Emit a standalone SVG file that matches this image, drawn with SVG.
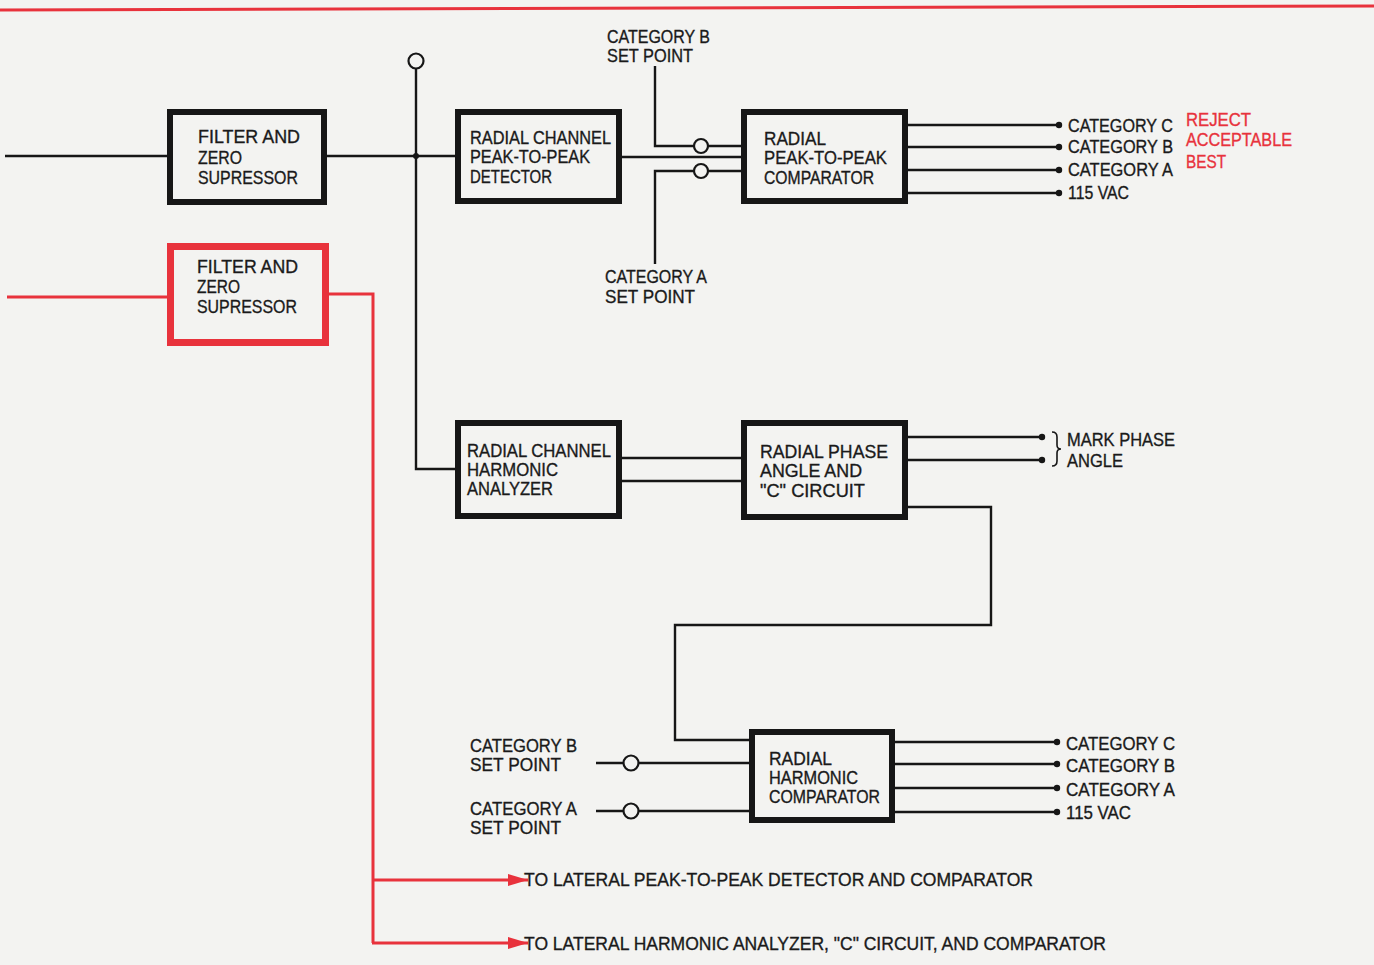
<svg xmlns="http://www.w3.org/2000/svg" width="1374" height="965" viewBox="0 0 1374 965">
<style>
.bg{fill:#f3f3f1}
.box{fill:none;stroke:#161616;stroke-width:6}
.rbox{fill:none;stroke:#e8323c;stroke-width:7}
.w{fill:none;stroke:#161616;stroke-width:2.4}
.rw{fill:none;stroke:#e8323c;stroke-width:3}
.c{fill:#f3f3f1;stroke:#161616;stroke-width:2.2}
.dot{fill:#161616}
text{font-family:"Liberation Sans",Arial,sans-serif;font-size:19px;fill:#1a1a1a;stroke:#1a1a1a;stroke-width:0.35}
text.r{fill:#e8323c;stroke:#e8323c}
</style>
<defs>
<marker id="arr" viewBox="0 0 20 12" refX="20" refY="6" markerWidth="20" markerHeight="12" markerUnits="userSpaceOnUse" orient="auto">
<path d="M0,0 L20,6 L0,12 Z" fill="#e8323c"/>
</marker>
</defs>
<rect class="bg" x="0" y="0" width="1374" height="965"/>
<line x1="0" y1="10" x2="1374" y2="6" stroke="#e8323c" stroke-width="3"/>

<g id="connectors">
<line class="w" x1="5" y1="156" x2="170" y2="156"/>
<line class="w" x1="327" y1="156" x2="458" y2="156"/>
<polyline class="w" points="416,69 416,469 458,469"/>
<circle class="c" cx="416" cy="61" r="7.5"/>
<circle class="dot" cx="416" cy="156" r="3"/>
<line class="w" x1="622" y1="157" x2="744" y2="157"/>
<polyline class="w" points="655,66 655,146 744,146"/>
<polyline class="w" points="655,264 655,171 744,171"/>
<circle class="c" cx="701" cy="146" r="7"/>
<circle class="c" cx="701" cy="171" r="7"/>
<line class="w" x1="908" y1="125" x2="1059" y2="125"/>
<line class="w" x1="908" y1="147" x2="1059" y2="147"/>
<line class="w" x1="908" y1="170" x2="1059" y2="170"/>
<line class="w" x1="908" y1="193" x2="1059" y2="193"/>
<circle class="dot" cx="1059" cy="125" r="3.2"/>
<circle class="dot" cx="1059" cy="147" r="3.2"/>
<circle class="dot" cx="1059" cy="170" r="3.2"/>
<circle class="dot" cx="1059" cy="193" r="3.2"/>
<line class="w" x1="622" y1="458" x2="744" y2="458"/>
<line class="w" x1="622" y1="481" x2="744" y2="481"/>
<line class="w" x1="908" y1="437" x2="1042" y2="437"/>
<line class="w" x1="908" y1="460" x2="1042" y2="460"/>
<circle class="dot" cx="1042" cy="437" r="3.2"/>
<circle class="dot" cx="1042" cy="460" r="3.2"/>
<path d="M1052,432 q5,0 5,5 v8 q0,4 4,4 q-4,0 -4,4 v8 q0,5 -5,5" fill="none" stroke="#161616" stroke-width="1.6"/>
<polyline class="w" points="908,507 991,507 991,625 675,625 675,740 752,740"/>
<line class="w" x1="596" y1="763" x2="752" y2="763"/>
<line class="w" x1="596" y1="811" x2="752" y2="811"/>
<circle class="c" cx="631" cy="763" r="7.5"/>
<circle class="c" cx="631" cy="811" r="7.5"/>
<line class="w" x1="895" y1="742" x2="1057" y2="742"/>
<line class="w" x1="895" y1="764" x2="1057" y2="764"/>
<line class="w" x1="895" y1="788" x2="1057" y2="788"/>
<line class="w" x1="895" y1="812" x2="1057" y2="812"/>
<circle class="dot" cx="1057" cy="742" r="3.2"/>
<circle class="dot" cx="1057" cy="764" r="3.2"/>
<circle class="dot" cx="1057" cy="788" r="3.2"/>
<circle class="dot" cx="1057" cy="812" r="3.2"/>
<line class="rw" x1="7" y1="297" x2="170" y2="297"/>
<polyline class="rw" points="329,294 373,294 373,943"/>
<line class="rw" x1="372" y1="880" x2="528" y2="880" marker-end="url(#arr)"/>
<line class="rw" x1="372" y1="943" x2="528" y2="943" marker-end="url(#arr)"/>
</g>

<g id="filter1">
<rect class="box" x="170" y="112" width="154" height="90"/>
<text x="198" y="143" textLength="102" lengthAdjust="spacingAndGlyphs">FILTER AND</text>
<text x="198" y="164" textLength="44" lengthAdjust="spacingAndGlyphs">ZERO</text>
<text x="198" y="184" textLength="100" lengthAdjust="spacingAndGlyphs">SUPRESSOR</text>
</g>

<g id="filter2">
<rect class="rbox" x="170.5" y="246.5" width="155" height="96"/>
<text x="197" y="273" textLength="101" lengthAdjust="spacingAndGlyphs">FILTER AND</text>
<text x="197" y="293" textLength="43" lengthAdjust="spacingAndGlyphs">ZERO</text>
<text x="197" y="313" textLength="100" lengthAdjust="spacingAndGlyphs">SUPRESSOR</text>
</g>

<g id="p2p-detector">
<rect class="box" x="458" y="112" width="161" height="89"/>
<text x="470" y="144" textLength="141" lengthAdjust="spacingAndGlyphs">RADIAL CHANNEL</text>
<text x="470" y="163" textLength="120" lengthAdjust="spacingAndGlyphs">PEAK-TO-PEAK</text>
<text x="470" y="183" textLength="82" lengthAdjust="spacingAndGlyphs">DETECTOR</text>
</g>

<g id="p2p-comparator">
<rect class="box" x="744" y="112" width="161" height="89"/>
<text x="764" y="145" textLength="62" lengthAdjust="spacingAndGlyphs">RADIAL</text>
<text x="764" y="164" textLength="123" lengthAdjust="spacingAndGlyphs">PEAK-TO-PEAK</text>
<text x="764" y="184" textLength="110" lengthAdjust="spacingAndGlyphs">COMPARATOR</text>
</g>

<g id="setpoints-top">
<text x="607" y="43" textLength="103" lengthAdjust="spacingAndGlyphs">CATEGORY B</text>
<text x="607" y="62" textLength="86" lengthAdjust="spacingAndGlyphs">SET POINT</text>
<text x="605" y="283" textLength="102" lengthAdjust="spacingAndGlyphs">CATEGORY A</text>
<text x="605" y="303" textLength="90" lengthAdjust="spacingAndGlyphs">SET POINT</text>
</g>

<g id="outputs-top">
<text x="1068" y="132" textLength="105" lengthAdjust="spacingAndGlyphs">CATEGORY C</text>
<text x="1068" y="153" textLength="105" lengthAdjust="spacingAndGlyphs">CATEGORY B</text>
<text x="1068" y="176" textLength="105" lengthAdjust="spacingAndGlyphs">CATEGORY A</text>
<text x="1068" y="199" textLength="61" lengthAdjust="spacingAndGlyphs">115 VAC</text>
<text class="r" x="1186" y="126" textLength="65" lengthAdjust="spacingAndGlyphs">REJECT</text>
<text class="r" x="1186" y="146" textLength="106" lengthAdjust="spacingAndGlyphs">ACCEPTABLE</text>
<text class="r" x="1186" y="168" textLength="40" lengthAdjust="spacingAndGlyphs">BEST</text>
</g>

<g id="harmonic-analyzer">
<rect class="box" x="458" y="423" width="161" height="93"/>
<text x="467" y="457" textLength="144" lengthAdjust="spacingAndGlyphs">RADIAL CHANNEL</text>
<text x="467" y="476" textLength="91" lengthAdjust="spacingAndGlyphs">HARMONIC</text>
<text x="467" y="495" textLength="86" lengthAdjust="spacingAndGlyphs">ANALYZER</text>
</g>

<g id="phase-angle">
<rect class="box" x="744" y="423" width="161" height="94"/>
<text x="760" y="458" textLength="128" lengthAdjust="spacingAndGlyphs">RADIAL PHASE</text>
<text x="760" y="477" textLength="102" lengthAdjust="spacingAndGlyphs">ANGLE AND</text>
<text x="760" y="497" textLength="105" lengthAdjust="spacingAndGlyphs">"C" CIRCUIT</text>
<text x="1067" y="446" textLength="108" lengthAdjust="spacingAndGlyphs">MARK PHASE</text>
<text x="1067" y="467" textLength="56" lengthAdjust="spacingAndGlyphs">ANGLE</text>
</g>

<g id="harmonic-comparator">
<rect class="box" x="752" y="732" width="140" height="88"/>
<text x="769" y="765" textLength="63" lengthAdjust="spacingAndGlyphs">RADIAL</text>
<text x="769" y="784" textLength="89" lengthAdjust="spacingAndGlyphs">HARMONIC</text>
<text x="769" y="803" textLength="111" lengthAdjust="spacingAndGlyphs">COMPARATOR</text>
</g>

<g id="setpoints-bottom">
<text x="470" y="752" textLength="107" lengthAdjust="spacingAndGlyphs">CATEGORY B</text>
<text x="470" y="771" textLength="91" lengthAdjust="spacingAndGlyphs">SET POINT</text>
<text x="470" y="815" textLength="107" lengthAdjust="spacingAndGlyphs">CATEGORY A</text>
<text x="470" y="834" textLength="91" lengthAdjust="spacingAndGlyphs">SET POINT</text>
</g>

<g id="outputs-bottom">
<text x="1066" y="750" textLength="109" lengthAdjust="spacingAndGlyphs">CATEGORY C</text>
<text x="1066" y="772" textLength="109" lengthAdjust="spacingAndGlyphs">CATEGORY B</text>
<text x="1066" y="796" textLength="109" lengthAdjust="spacingAndGlyphs">CATEGORY A</text>
<text x="1066" y="819" textLength="65" lengthAdjust="spacingAndGlyphs">115 VAC</text>
</g>

<g id="lateral-labels">
<text x="524" y="886" textLength="509" lengthAdjust="spacingAndGlyphs">TO LATERAL PEAK-TO-PEAK DETECTOR AND COMPARATOR</text>
<text x="524" y="950" textLength="582" lengthAdjust="spacingAndGlyphs">TO LATERAL HARMONIC ANALYZER, "C" CIRCUIT, AND COMPARATOR</text>
</g>
</svg>
